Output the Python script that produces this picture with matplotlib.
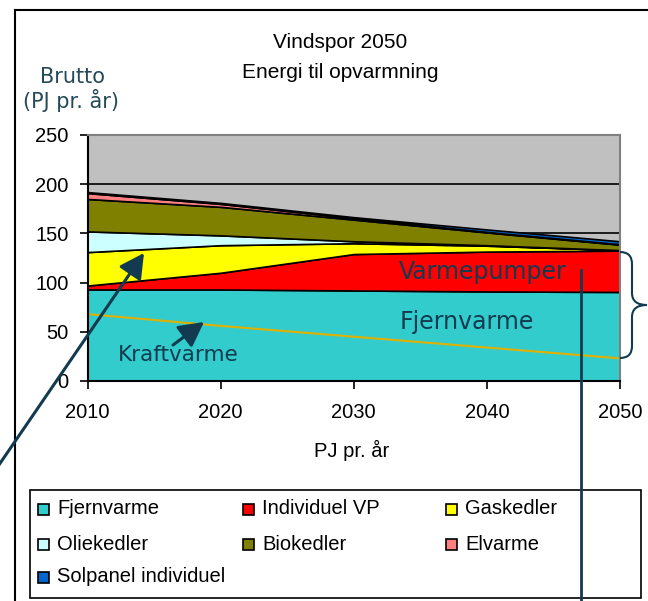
import matplotlib
matplotlib.use("Agg")
import matplotlib.pyplot as plt
from matplotlib.patches import Rectangle, PathPatch, FancyArrowPatch
from matplotlib.path import Path
from matplotlib.lines import Line2D

# ---- data ----
years = [2010, 2020, 2030, 2040, 2050]
fjernvarme = [93, 93, 92, 91, 90.5]
individuel_vp = [4, 17, 37, 40.5, 42]
gaskedler = [34, 28, 11, 6, 0.5]
oliekedler = [21, 10, 2, 0.5, 0]
biokedler = [33, 29, 22, 13, 5.5]
elvarme = [6, 3, 1.5, 0.5, 0.5]
solpanel = [1, 1, 1, 2.5, 3]
kraftvarme = [68, 56, 45, 34, 23]

series_names = ["Fjernvarme", "Individuel VP", "Gaskedler", "Oliekedler",
                "Biokedler", "Elvarme", "Solpanel individuel"]
series_colors = ["#33CCCC", "#FF0000", "#FFFF00", "#CCFFFF",
                 "#808000", "#FF8080", "#0066CC"]
yticks = [0, 50, 100, 150, 200, 250]

W, H = 648, 601
fig = plt.figure(figsize=(W / 100, H / 100), dpi=100)
fig.patch.set_facecolor("white")

def P(x, y):
    return (x / W, 1 - y / H)

ax_l, ax_r, ax_t, ax_b = 87.5, 620, 135, 381
ax = fig.add_axes([ax_l / W, 1 - ax_b / H, (ax_r - ax_l) / W, (ax_b - ax_t) / H])
ax.set_facecolor("#C0C0C0")

ax.stackplot(years, fjernvarme, individuel_vp, gaskedler, oliekedler,
             biokedler, elvarme, solpanel, colors=series_colors,
             edgecolor="black", linewidth=1.2, zorder=3)
ax.plot(years, kraftvarme, color="#E0B000", lw=1.5, zorder=4)

ax.set_xlim(2010, 2050)
ax.set_ylim(0, 250)
ax.set_yticks(yticks)
ax.set_xticks(years)
for v in yticks[1:-1]:
    ax.axhline(v, color="black", lw=1.2, zorder=1)

tick_font = dict(family="Liberation Sans", size=14.5)
ax.set_xticklabels([str(y) for y in years], **tick_font)
ax.set_yticklabels([str(v) for v in yticks], **tick_font)
ax.tick_params(axis="y", direction="out", length=6, width=1.2, pad=7.5, colors="black")
ax.tick_params(axis="x", direction="out", length=6, width=1.2, pad=10, colors="black")
ax.spines["left"].set_color("black")
ax.spines["bottom"].set_color("black")
ax.spines["left"].set_linewidth(1.5)
ax.spines["bottom"].set_linewidth(1.5)
ax.spines["top"].set_color("#808080")
ax.spines["right"].set_color("#808080")
ax.spines["top"].set_linewidth(1.5)
ax.spines["right"].set_linewidth(1.5)
for s in ax.spines.values():
    s.set_zorder(5)

navy = "#123A50"

# titles and labels
fig.text(*P(340, 42), "Vindspor 2050", ha="center", va="center",
         family="Liberation Sans", size=15)
fig.text(*P(340, 72), "Energi til opvarmning", ha="center", va="center",
         family="Liberation Sans", size=15)
fig.text(*P(72, 77), "Brutto", ha="center", va="center",
         family="DejaVu Sans", size=15, color="#244A5A")
fig.text(*P(71, 101), "(PJ pr. år)", ha="center", va="center",
         family="DejaVu Sans", size=15, color="#244A5A")
fig.text(*P(352, 450), "PJ pr. år", ha="center", va="center",
         family="Liberation Sans", size=14.5)

# in-chart annotations
fig.text(*P(483, 272), "Varmepumper", ha="center", va="center",
         family="DejaVu Sans", size=17, color=navy, zorder=10)
fig.text(*P(467, 322), "Fjernvarme", ha="center", va="center",
         family="DejaVu Sans", size=17, color=navy, zorder=10)
fig.text(*P(178, 355), "Kraftvarme", ha="center", va="center",
         family="DejaVu Sans", size=15.5, color=navy, zorder=10)

arrow_kw = dict(arrowstyle="-|>,head_length=0.75,head_width=0.4",
                color=navy, lw=2.2, shrinkA=0, shrinkB=0)
fig.add_artist(FancyArrowPatch(
    P(-10, 478), P(144, 253), transform=fig.transFigure,
    mutation_scale=20, zorder=11, **arrow_kw))
fig.add_artist(FancyArrowPatch(
    P(173, 345), P(204, 322), transform=fig.transFigure,
    mutation_scale=20, zorder=11, **arrow_kw))

# vertical pointer line
fig.add_artist(Line2D([P(581, 270)[0], P(581, 610)[0]],
                      [P(581, 270)[1], P(581, 610)[1]],
                      transform=fig.transFigure, color=navy, lw=2, zorder=11))

# brace
verts = [P(620, 252), P(632, 252), P(632, 264), P(632, 293),
         P(632, 305), P(647, 305), P(632, 305), P(632, 317),
         P(632, 346), P(632, 358), P(620, 358)]
codes = [Path.MOVETO, Path.CURVE3, Path.CURVE3, Path.LINETO,
         Path.CURVE3, Path.CURVE3, Path.CURVE3, Path.CURVE3,
         Path.LINETO, Path.CURVE3, Path.CURVE3]
fig.add_artist(PathPatch(Path(verts, codes), transform=fig.transFigure,
                         facecolor="none", edgecolor=navy, lw=1.5, zorder=11))

# outer chart border (left and top visible)
fig.add_artist(Line2D([P(15, 10)[0], P(15, 610)[0]], [P(15, 10)[1], P(15, 610)[1]],
                      transform=fig.transFigure, color="black", lw=1.5))
fig.add_artist(Line2D([P(15, 10)[0], P(660, 10)[0]], [P(15, 10)[1], P(660, 10)[1]],
                      transform=fig.transFigure, color="black", lw=1.5))

# legend (manual, row-wise like the original)
lx0, ly0, lx1, ly1 = 30, 490, 641, 598
x0, y0 = P(lx0, ly1)
fig.add_artist(Rectangle((x0, y0), (lx1 - lx0) / W, (ly1 - ly0) / H,
                         transform=fig.transFigure, facecolor="white",
                         edgecolor="black", lw=1.2, zorder=8))
col_x = [38, 243, 446]
row_y = [509, 544, 577]
sq = 11
for i, (name, col) in enumerate(zip(series_names, series_colors)):
    cx = col_x[i % 3]
    cy = row_y[i // 3]
    rx, ry = P(cx, cy + sq / 2)
    fig.add_artist(Rectangle((rx, ry), sq / W, sq / H, transform=fig.transFigure,
                             facecolor=col, edgecolor="black", lw=1.2, zorder=9))
    fig.text(*P(cx + 19, cy), name, ha="left", va="center",
             family="Liberation Sans", size=14.5, zorder=9)

fig.savefig("out.png", dpi=100)
